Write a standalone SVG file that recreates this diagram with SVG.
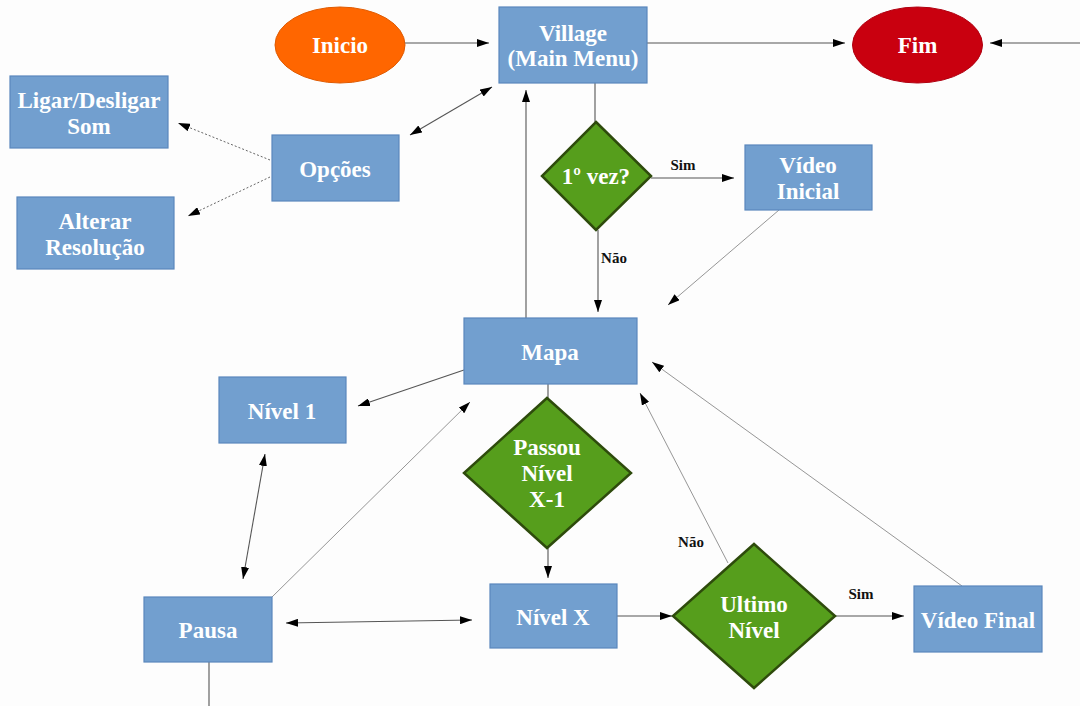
<svg xmlns="http://www.w3.org/2000/svg" width="1080" height="706" viewBox="0 0 1080 706">
<defs>
<style>
.box{fill:#729fcf;stroke:#5a87bd;stroke-width:1.2}
.dia{fill:#569e1c;stroke:#2e4b0c;stroke-width:2.5}
.t{font-family:"Liberation Serif",serif;font-weight:bold;font-size:23px;fill:#ffffff;text-anchor:middle}
.lbl{font-family:"Liberation Serif",serif;font-weight:bold;font-size:15px;fill:#111;text-anchor:middle}
.c{fill:none;stroke:#555;stroke-width:1.1}
.thin{fill:none;stroke:#8a8a8a;stroke-width:0.9}
.dot{fill:none;stroke:#666;stroke-width:1;stroke-dasharray:2 2}
</style>
<marker id="ah" viewBox="0 0 12 8" refX="12" refY="4" markerWidth="12" markerHeight="8" markerUnits="userSpaceOnUse" orient="auto-start-reverse">
<path d="M0,0 L12,4 L0,8 z" fill="#000"/>
</marker>
</defs>
<rect width="1080" height="706" fill="#fdfdfd"/>
<g id="connectors">
<line class="c" x1="405" y1="43" x2="489" y2="43" marker-end="url(#ah)"/>
<line class="c" x1="647" y1="43" x2="845" y2="43" marker-end="url(#ah)"/>
<line class="c" x1="1080" y1="43" x2="990" y2="43" marker-end="url(#ah)"/>
<line class="c" x1="410" y1="135" x2="492" y2="87" marker-start="url(#ah)" marker-end="url(#ah)"/>
<line class="dot" x1="270" y1="160" x2="178" y2="123" marker-end="url(#ah)"/>
<line class="dot" x1="270" y1="177" x2="188" y2="216" marker-end="url(#ah)"/>
<line class="c" x1="595" y1="83" x2="595" y2="122"/>
<line class="c" x1="651" y1="178" x2="734" y2="178" marker-end="url(#ah)"/>
<line class="c" x1="598" y1="230" x2="598" y2="312" marker-end="url(#ah)"/>
<line class="thin" x1="779" y1="210" x2="668" y2="305" marker-end="url(#ah)"/>
<line class="c" x1="526" y1="318" x2="526" y2="90" marker-end="url(#ah)"/>
<line class="c" x1="464" y1="370" x2="358" y2="406" marker-end="url(#ah)"/>
<line class="c" x1="265" y1="454" x2="243" y2="579" marker-start="url(#ah)" marker-end="url(#ah)"/>
<line class="thin" x1="272" y1="597" x2="470" y2="402" marker-end="url(#ah)"/>
<line class="c" x1="286" y1="623" x2="472" y2="620" marker-start="url(#ah)" marker-end="url(#ah)"/>
<line class="c" x1="209" y1="652" x2="209" y2="706"/>
<line class="c" x1="548" y1="384" x2="548" y2="398"/>
<line class="c" x1="548" y1="548" x2="548" y2="578" marker-end="url(#ah)"/>
<line class="c" x1="617" y1="616" x2="672" y2="616" marker-end="url(#ah)"/>
<line class="c" x1="835" y1="616" x2="904" y2="616" marker-end="url(#ah)"/>
<line class="thin" x1="728" y1="563" x2="640" y2="393" marker-end="url(#ah)"/>
<line class="thin" x1="962" y1="586" x2="652" y2="362" marker-end="url(#ah)"/>
<text class="lbl" x="683" y="170">Sim</text>
<text class="lbl" x="614" y="263">Não</text>
<text class="lbl" x="691" y="547">Não</text>
<text class="lbl" x="861" y="599">Sim</text>
</g>
<g id="inicio"><ellipse cx="340" cy="45" rx="65" ry="38" fill="#ff6600" stroke="#e05a00" stroke-width="1"/><text class="t" x="340" y="53">Inicio</text></g>
<g id="village"><rect class="box" x="499" y="7" width="148" height="76"/><text class="t" x="573" y="41">Village</text><text class="t" x="573" y="66">(Main Menu)</text></g>
<g id="fim"><ellipse cx="917.5" cy="45" rx="65" ry="38" fill="#c9000f" stroke="#b00010" stroke-width="1"/><text class="t" x="917.5" y="53">Fim</text></g>
<g id="ligar"><rect class="box" x="10" y="76" width="158" height="72"/><text class="t" x="89" y="108">Ligar/Desligar</text><text class="t" x="89" y="134">Som</text></g>
<g id="opcoes"><rect class="box" x="272" y="135" width="127" height="66"/><text class="t" x="335" y="177">Opções</text></g>
<g id="alterar"><rect class="box" x="17" y="197" width="157" height="72"/><text class="t" x="95" y="229">Alterar</text><text class="t" x="95" y="255">Resolução</text></g>
<g id="vez"><polygon class="dia" points="596,122 651,176 596,230 542,176"/><text class="t" x="596" y="184">1º vez?</text></g>
<g id="video-inicial"><rect class="box" x="745" y="145" width="127" height="65"/><text class="t" x="808" y="173">Vídeo</text><text class="t" x="808" y="199">Inicial</text></g>
<g id="mapa"><rect class="box" x="464" y="318" width="173" height="66"/><text class="t" x="550" y="360">Mapa</text></g>
<g id="nivel1"><rect class="box" x="219" y="377" width="127" height="66"/><text class="t" x="282" y="419">Nível 1</text></g>
<g id="passou"><polygon class="dia" points="547,398 631,473 547,548 464,473"/><text class="t" x="547" y="455">Passou</text><text class="t" x="547" y="481">Nível</text><text class="t" x="547" y="507">X-1</text></g>
<g id="pausa"><rect class="box" x="144" y="597" width="128" height="65"/><text class="t" x="208" y="638">Pausa</text></g>
<g id="nivelx"><rect class="box" x="490" y="584" width="127" height="64"/><text class="t" x="553" y="625">Nível X</text></g>
<g id="ultimo"><polygon class="dia" points="754,544 835,616 754,688 673,616"/><text class="t" x="754" y="612">Ultimo</text><text class="t" x="754" y="638">Nível</text></g>
<g id="video-final"><rect class="box" x="914" y="586" width="128" height="66"/><text class="t" x="978" y="628">Vídeo Final</text></g>
</svg>
